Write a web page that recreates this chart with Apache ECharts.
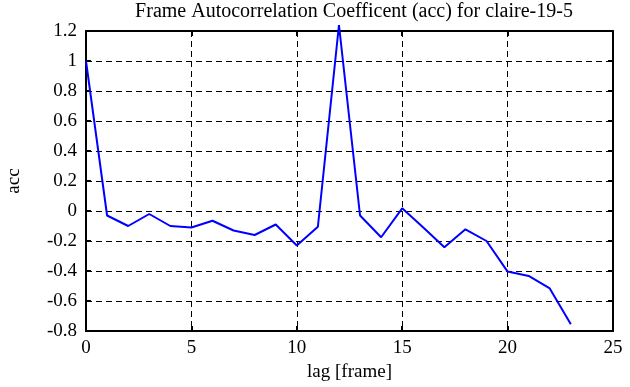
<!DOCTYPE html>
<html><head><meta charset="utf-8">
<script src="https://cdn.jsdelivr.net/npm/echarts@6/dist/echarts.min.js"></script>
<style>html,body{margin:0;padding:0;background:#fff}#c{width:630px;height:387px}</style>
</head><body><div id="c"></div>
<script>
var lags = [0,1,2,3,4,5,6,7,8,9,10,11,12,13,14,15,16,17,18,19,20,21,22,23];
var acc = [1.0,-0.03,-0.10,-0.02,-0.10,-0.11,-0.065,-0.13,-0.16,-0.09,-0.23,-0.105,1.24,-0.03,-0.175,0.018,-0.11,-0.242,-0.122,-0.2,-0.404,-0.433,-0.516,-0.755];
var xTicks = [0,5,10,15,20,25];
var yTicks = [-0.8,-0.6,-0.4,-0.2,0,0.2,0.4,0.6,0.8,1,1.2];
var titleText = 'Frame Autocorrelation Coefficent (acc) for claire-19-5';
var xName = 'lag [frame]';
var yName = 'acc';

var font = 'Liberation Serif';
var chart = echarts.init(document.getElementById('c'), null, {renderer:'canvas'});
function fmt(v){ var r = Math.round(v*10)/10; return String(r); }
var data = lags.map(function(l,i){return [l, acc[i]];});
var boxLine = {show:true,onZero:false,lineStyle:{color:'#000',width:2}};
var tick = {inside:true,length:5,lineStyle:{color:'#000',width:2}};
var grid = {show:true,lineStyle:{color:'#000',type:[6,4],width:1}};
chart.setOption({
  animation:false,
  title:{text:titleText,left:349,top:-3,textAlign:'center',textStyle:{fontFamily:font,fontSize:20,fontWeight:'normal',color:'#000'}},
  grid:{left:86,right:17,top:31,bottom:56,outerBoundsMode:'none',containLabel:false},
  xAxis:[{type:'value',min:xTicks[0],max:xTicks[xTicks.length-1],interval:5,
    name:xName,nameLocation:'middle',nameGap:30,nameTextStyle:{fontFamily:font,fontSize:19,color:'#000'},
    axisLine:boxLine,axisTick:tick,
    axisLabel:{fontFamily:font,fontSize:19,color:'#000',margin:8},
    splitLine:grid},
   {type:'value',position:'top',min:0,max:25,interval:5,
    axisLine:boxLine,axisTick:tick,axisLabel:{show:false},splitLine:{show:false}}],
  yAxis:[{type:'value',min:yTicks[0],max:yTicks[yTicks.length-1],interval:0.2,
    name:yName,nameLocation:'middle',nameGap:62,nameTextStyle:{fontFamily:font,fontSize:19,color:'#000'},
    axisLine:boxLine,axisTick:tick,
    axisLabel:{fontFamily:font,fontSize:19,color:'#000',margin:9,formatter:fmt},
    splitLine:grid},
   {type:'value',position:'right',min:-0.8,max:1.2,interval:0.2,
    axisLine:boxLine,axisTick:tick,axisLabel:{show:false},splitLine:{show:false}}],
  series:[{type:'line',data:data,xAxisIndex:0,yAxisIndex:0,showSymbol:false,clip:false,
    lineStyle:{color:'#0000ff',width:2}}]
});
</script></body></html>
